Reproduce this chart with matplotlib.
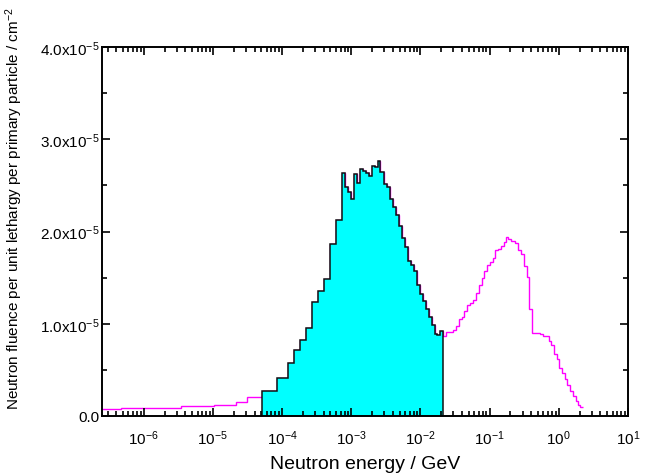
import numpy as np
import matplotlib
matplotlib.use("Agg")
import matplotlib.pyplot as plt
from matplotlib.ticker import FixedLocator, FuncFormatter, LogLocator, NullFormatter

plt.rcParams['font.family'] = ['Liberation Sans', 'DejaVu Sans']
plt.rcParams['mathtext.fontset'] = 'custom'
plt.rcParams['mathtext.rm'] = 'Liberation Sans'
plt.rcParams['mathtext.default'] = 'regular'

# bin edges (log10 of energy in GeV) and fluence per bin (units of 1e-5)
log_edges = [-6.602, -6.332, -5.996, -5.466, -4.986, -4.659, -4.504,
             -4.288, -4.072, -3.919, -3.832, -3.746, -3.659, -3.567, -3.480,
             -3.399, -3.313, -3.221, -3.134, -3.086, -3.053, -3.000, -2.961,
             -2.918, -2.874, -2.831, -2.788, -2.745, -2.701, -2.658, -2.615,
             -2.582, -2.528, -2.485, -2.442, -2.398, -2.355, -2.312, -2.269,
             -2.228, -2.185, -2.139, -2.093, -2.052, -2.007, -1.966, -1.922,
             -1.879, -1.836, -1.795, -1.755, -1.713, -1.677,
             -1.630, -1.524, -1.485, -1.438, -1.403, -1.366, -1.322, -1.283,
             -1.236, -1.197, -1.154, -1.115, -1.077, -1.042, -0.995, -0.956,
             -0.918, -0.875, -0.832, -0.793, -0.764, -0.735, -0.696, -0.630,
             -0.587, -0.543, -0.509, -0.466, -0.428, -0.389, -0.274, -0.226,
             -0.148, -0.111, -0.072, -0.028, 0.005, 0.048, 0.091, 0.126,
             0.159, 0.202, 0.246, 0.279, 0.311, 0.347]
fluence = [0.073, 0.084, 0.09, 0.105, 0.12, 0.155, 0.21,
           0.275, 0.415, 0.575, 0.71, 0.82, 0.955, 1.235, 1.35,
           1.485, 1.865, 2.12, 2.63, 2.48, 2.43, 2.35, 2.625,
           2.53, 2.68, 2.66, 2.64, 2.60, 2.71, 2.695, 2.77,
           2.65, 2.52, 2.485, 2.35, 2.27, 2.18, 2.06, 1.93,
           1.83, 1.675, 1.64, 1.575, 1.415, 1.32, 1.25, 1.16,
           1.07, 0.985, 0.89, 0.88, 0.925,
           0.87, 0.91, 0.935, 0.975, 1.05, 1.075, 1.14, 1.205,
           1.22, 1.26, 1.335, 1.42, 1.495, 1.57, 1.64, 1.67,
           1.71, 1.795, 1.815, 1.84, 1.885, 1.94, 1.915, 1.90,
           1.88, 1.795, 1.76, 1.625, 1.51, 1.155, 0.90, 0.885,
           0.865, 0.81, 0.765, 0.675, 0.62, 0.525, 0.465, 0.40,
           0.33, 0.265, 0.22, 0.16, 0.12, 0.10]
# shaded part of the spectrum (edge indices)
shade_lo = 7
shade_hi = 52

xticks = [1e-6, 1e-5, 1e-4, 1e-3, 1e-2, 1e-1, 1e0, 1e1]
yticks = [0.0, 1e-5, 2e-5, 3e-5, 4e-5]

edges = 10.0 ** np.array(log_edges)
vals = np.array(fluence) * 1e-5

fig = plt.figure(figsize=(6.46, 4.77), dpi=100)
ax = fig.add_axes([0.158, 0.126, 0.814, 0.773])

ax.stairs(vals, edges, color='#ff00ff', lw=1.0, baseline=None)
ax.stairs(vals[shade_lo:shade_hi], edges[shade_lo:shade_hi + 1],
          fill=True, color='#00ffff', baseline=0)
ax.stairs(vals[shade_lo:shade_hi], edges[shade_lo:shade_hi + 1],
          color='#111111', lw=1.1, baseline=0)

ax.set_xscale('log')
ax.set_xlim(2.5e-7, 10)
ax.set_ylim(0, 4e-5)

ax.xaxis.set_major_locator(FixedLocator(xticks))
ax.xaxis.set_major_formatter(FuncFormatter(
    lambda v, p: r'$10^{%d}$' % int(round(np.log10(v)))))
ax.xaxis.set_minor_locator(LogLocator(base=10, subs=np.arange(2, 10), numticks=20))
ax.xaxis.set_minor_formatter(NullFormatter())

ax.yaxis.set_major_locator(FixedLocator(yticks))
ax.yaxis.set_minor_locator(FixedLocator([0.5e-5, 1.5e-5, 2.5e-5, 3.5e-5]))


def yfmt(v, p):
    if v == 0:
        return '0.0'
    return r'%.1fx$10^{-5}$' % (v / 1e-5)


ax.yaxis.set_major_formatter(FuncFormatter(yfmt))

ax.tick_params(which='both', direction='in', top=True, right=True,
               width=1.2, labelsize=11)
ax.tick_params(which='major', length=6)
ax.tick_params(which='minor', length=3.5)
ax.tick_params(axis='x', pad=9)
ax.tick_params(axis='y', pad=2)
for s in ax.spines.values():
    s.set_linewidth(1.4)

ax.set_xlabel('Neutron energy / GeV', fontsize=14, labelpad=6)
fig.text(0.022, 0.562,
         r'Neutron fluence per unit lethargy per primary particle / cm$^{-2}$',
         rotation=90, ha='center', va='center', fontsize=11)

fig.savefig('out.png', dpi=100)
